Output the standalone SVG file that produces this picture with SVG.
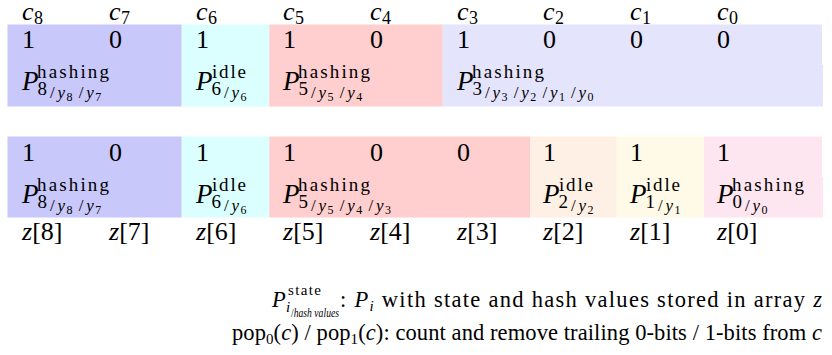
<svg xmlns="http://www.w3.org/2000/svg" width="832" height="355" viewBox="0 0 832 355">
<style>
.n { font-size: 26px; }
.c { font-size: 26px; font-style: italic; }
.cs { font-size: 18px; }
.P { font-size: 27px; font-style: italic; }
.sc { font-size: 19px; }
.sl { font-size: 17px; }
.yy { font-size: 17px; font-style: italic; }
.dd { font-size: 12px; }
.lg { font-size: 22.5px; }
.lgs { font-size: 15px; }
.lgss { font-size: 11.5px; }
.it { font-style: italic; }
.blue { fill: #c8c8fb; }
.cyan { fill: #dbfefe; }
.red { fill: #ffcece; }
.lav { fill: #e4e4fd; }
.peach { fill: #fff0e5; }
.yel { fill: #fffae8; }
.pink { fill: #fde6ef; }
</style>
<g font-family="Liberation Serif" fill="#000">
<g id="header">
  <text class="c" x="22" y="19.5">c</text><text class="cs" x="34" y="23.5">8</text>
  <text class="c" x="109" y="19.5">c</text><text class="cs" x="121" y="23.5">7</text>
  <text class="c" x="196" y="19.5">c</text><text class="cs" x="208" y="23.5">6</text>
  <text class="c" x="283" y="19.5">c</text><text class="cs" x="295" y="23.5">5</text>
  <text class="c" x="370" y="19.5">c</text><text class="cs" x="382" y="23.5">4</text>
  <text class="c" x="457" y="19.5">c</text><text class="cs" x="469" y="23.5">3</text>
  <text class="c" x="543" y="19.5">c</text><text class="cs" x="555" y="23.5">2</text>
  <text class="c" x="630" y="19.5">c</text><text class="cs" x="642" y="23.5">1</text>
  <text class="c" x="717" y="19.5">c</text><text class="cs" x="729" y="23.5">0</text>
</g>

<!-- Row 1 -->
<g id="r1-P8">
  <rect class="blue" x="7.5" y="24.5" width="174.2" height="40.5"/>
  <rect class="blue" x="7.5" y="65" width="174.2" height="41.5"/>
  <text class="n" x="22" y="48">1</text>
  <text class="n" x="109" y="48">0</text>
  <text class="P" x="22" y="90">P</text>
  <text class="sc" x="37" y="78" textLength="72">hashing</text>
  <text class="sc" x="37.5" y="95">8</text>
  <text class="sl" x="50" y="98">/</text><text class="yy" x="57.5" y="98">y</text><text class="dd" x="66.5" y="101">8</text>
  <text class="sl" x="78.7" y="98">/</text><text class="yy" x="86.2" y="98">y</text><text class="dd" x="95.2" y="101">7</text>
</g>
<g id="r1-P6">
  <rect class="cyan" x="181.7" y="24.5" width="87.6" height="40.5"/>
  <rect class="cyan" x="181.7" y="65" width="87.6" height="41.5"/>
  <text class="n" x="196" y="48">1</text>
  <text class="P" x="196" y="90">P</text>
  <text class="sc" x="212" y="78" textLength="34">idle</text>
  <text class="sc" x="211.5" y="95">6</text>
  <text class="sl" x="224" y="98">/</text><text class="yy" x="231.5" y="98">y</text><text class="dd" x="240.5" y="101">6</text>
</g>
<g id="r1-P5">
  <rect class="red" x="269.3" y="24.5" width="173.4" height="40.5"/>
  <rect class="red" x="269.3" y="65" width="173.4" height="41.5"/>
  <text class="n" x="283" y="48">1</text>
  <text class="n" x="370" y="48">0</text>
  <text class="P" x="283" y="90">P</text>
  <text class="sc" x="298" y="78" textLength="72">hashing</text>
  <text class="sc" x="298.5" y="95">5</text>
  <text class="sl" x="311" y="98">/</text><text class="yy" x="318.5" y="98">y</text><text class="dd" x="327.5" y="101">5</text>
  <text class="sl" x="339.7" y="98">/</text><text class="yy" x="347.2" y="98">y</text><text class="dd" x="356.2" y="101">4</text>
</g>
<g id="r1-P3">
  <rect class="lav" x="442.7" y="24.5" width="379.3" height="40.5"/>
  <rect class="lav" x="442.7" y="65" width="380.3" height="41.5"/>
  <text class="n" x="457" y="48">1</text>
  <text class="n" x="543" y="48">0</text>
  <text class="n" x="630" y="48">0</text>
  <text class="n" x="717" y="48">0</text>
  <text class="P" x="457" y="90">P</text>
  <text class="sc" x="472" y="78" textLength="72">hashing</text>
  <text class="sc" x="472.5" y="95">3</text>
  <text class="sl" x="485" y="98">/</text><text class="yy" x="492.5" y="98">y</text><text class="dd" x="501.5" y="101">3</text>
  <text class="sl" x="513.7" y="98">/</text><text class="yy" x="521.2" y="98">y</text><text class="dd" x="530.2" y="101">2</text>
  <text class="sl" x="542.4" y="98">/</text><text class="yy" x="549.9" y="98">y</text><text class="dd" x="558.9" y="101">1</text>
  <text class="sl" x="571.1" y="98">/</text><text class="yy" x="578.6" y="98">y</text><text class="dd" x="587.6" y="101">0</text>
</g>

<!-- Row 2 -->
<g id="r2-P8">
  <rect class="blue" x="7.5" y="136.5" width="174.2" height="40.5"/>
  <rect class="blue" x="7.5" y="177" width="174.2" height="40.5"/>
  <text class="n" x="22" y="160.5">1</text>
  <text class="n" x="109" y="160.5">0</text>
  <text class="P" x="22" y="202.5">P</text>
  <text class="sc" x="37" y="190.5" textLength="72">hashing</text>
  <text class="sc" x="37.5" y="207.5">8</text>
  <text class="sl" x="50" y="210.5">/</text><text class="yy" x="57.5" y="210.5">y</text><text class="dd" x="66.5" y="213.5">8</text>
  <text class="sl" x="78.7" y="210.5">/</text><text class="yy" x="86.2" y="210.5">y</text><text class="dd" x="95.2" y="213.5">7</text>
</g>
<g id="r2-P6">
  <rect class="cyan" x="181.7" y="136.5" width="87.6" height="40.5"/>
  <rect class="cyan" x="181.7" y="177" width="87.6" height="40.5"/>
  <text class="n" x="196" y="160.5">1</text>
  <text class="P" x="196" y="202.5">P</text>
  <text class="sc" x="212" y="190.5" textLength="34">idle</text>
  <text class="sc" x="211.5" y="207.5">6</text>
  <text class="sl" x="224" y="210.5">/</text><text class="yy" x="231.5" y="210.5">y</text><text class="dd" x="240.5" y="213.5">6</text>
</g>
<g id="r2-P5">
  <rect class="red" x="269.3" y="136.5" width="260.7" height="40.5"/>
  <rect class="red" x="269.3" y="177" width="260.7" height="40.5"/>
  <text class="n" x="283" y="160.5">1</text>
  <text class="n" x="370" y="160.5">0</text>
  <text class="n" x="457" y="160.5">0</text>
  <text class="P" x="283" y="202.5">P</text>
  <text class="sc" x="298" y="190.5" textLength="72">hashing</text>
  <text class="sc" x="298.5" y="207.5">5</text>
  <text class="sl" x="311" y="210.5">/</text><text class="yy" x="318.5" y="210.5">y</text><text class="dd" x="327.5" y="213.5">5</text>
  <text class="sl" x="339.7" y="210.5">/</text><text class="yy" x="347.2" y="210.5">y</text><text class="dd" x="356.2" y="213.5">4</text>
  <text class="sl" x="368.4" y="210.5">/</text><text class="yy" x="375.9" y="210.5">y</text><text class="dd" x="384.9" y="213.5">3</text>
</g>
<g id="r2-P2">
  <rect class="peach" x="530" y="136.5" width="86.7" height="40.5"/>
  <rect class="peach" x="530" y="177" width="86.7" height="40.5"/>
  <text class="n" x="543" y="160.5">1</text>
  <text class="P" x="543" y="202.5">P</text>
  <text class="sc" x="559" y="190.5" textLength="34">idle</text>
  <text class="sc" x="558.5" y="207.5">2</text>
  <text class="sl" x="571" y="210.5">/</text><text class="yy" x="578.5" y="210.5">y</text><text class="dd" x="587.5" y="213.5">2</text>
</g>
<g id="r2-P1">
  <rect class="yel" x="616.7" y="136.5" width="87.3" height="40.5"/>
  <rect class="yel" x="616.7" y="177" width="87.3" height="40.5"/>
  <text class="n" x="630" y="160.5">1</text>
  <text class="P" x="630" y="202.5">P</text>
  <text class="sc" x="646" y="190.5" textLength="34">idle</text>
  <text class="sc" x="645.5" y="207.5">1</text>
  <text class="sl" x="658" y="210.5">/</text><text class="yy" x="665.5" y="210.5">y</text><text class="dd" x="674.5" y="213.5">1</text>
</g>
<g id="r2-P0">
  <rect class="pink" x="704" y="136.5" width="118" height="40.5"/>
  <rect class="pink" x="704" y="177" width="119" height="40.5"/>
  <text class="n" x="717" y="160.5">1</text>
  <text class="P" x="717" y="202.5">P</text>
  <text class="sc" x="732" y="190.5" textLength="72">hashing</text>
  <text class="sc" x="732.5" y="207.5">0</text>
  <text class="sl" x="745" y="210.5">/</text><text class="yy" x="752.5" y="210.5">y</text><text class="dd" x="761.5" y="213.5">0</text>
</g>

<g id="zrow">
  <text class="n" x="22" y="240"><tspan class="it">z</tspan>[8]</text>
  <text class="n" x="109" y="240"><tspan class="it">z</tspan>[7]</text>
  <text class="n" x="196" y="240"><tspan class="it">z</tspan>[6]</text>
  <text class="n" x="283" y="240"><tspan class="it">z</tspan>[5]</text>
  <text class="n" x="370" y="240"><tspan class="it">z</tspan>[4]</text>
  <text class="n" x="457" y="240"><tspan class="it">z</tspan>[3]</text>
  <text class="n" x="543" y="240"><tspan class="it">z</tspan>[2]</text>
  <text class="n" x="630" y="240"><tspan class="it">z</tspan>[1]</text>
  <text class="n" x="717" y="240"><tspan class="it">z</tspan>[0]</text>
</g>

<g id="connectors"></g>

<g id="legend">
  <text class="lg it" x="272" y="307">P</text>
  <text class="lgs" x="288" y="295" textLength="33">state</text>
  <text class="lgs it" x="286" y="312">i</text>
  <text class="lgss" x="291" y="317" textLength="48" lengthAdjust="spacingAndGlyphs">/<tspan class="it">hash values</tspan></text>
  <text class="lg" x="340" y="307" textLength="482">: <tspan class="it">P</tspan><tspan class="lgs it" dy="4">i</tspan><tspan dy="-4"> with state and hash values stored in array </tspan><tspan class="it">z</tspan></text>
  <text class="lg" x="232" y="340" textLength="590">pop<tspan class="lgs" dy="4">0</tspan><tspan dy="-4">(</tspan><tspan class="it">c</tspan>) / pop<tspan class="lgs" dy="4">1</tspan><tspan dy="-4">(</tspan><tspan class="it">c</tspan>): count and remove trailing 0-bits / 1-bits from <tspan class="it">c</tspan></text>
</g>
</g>
</svg>
